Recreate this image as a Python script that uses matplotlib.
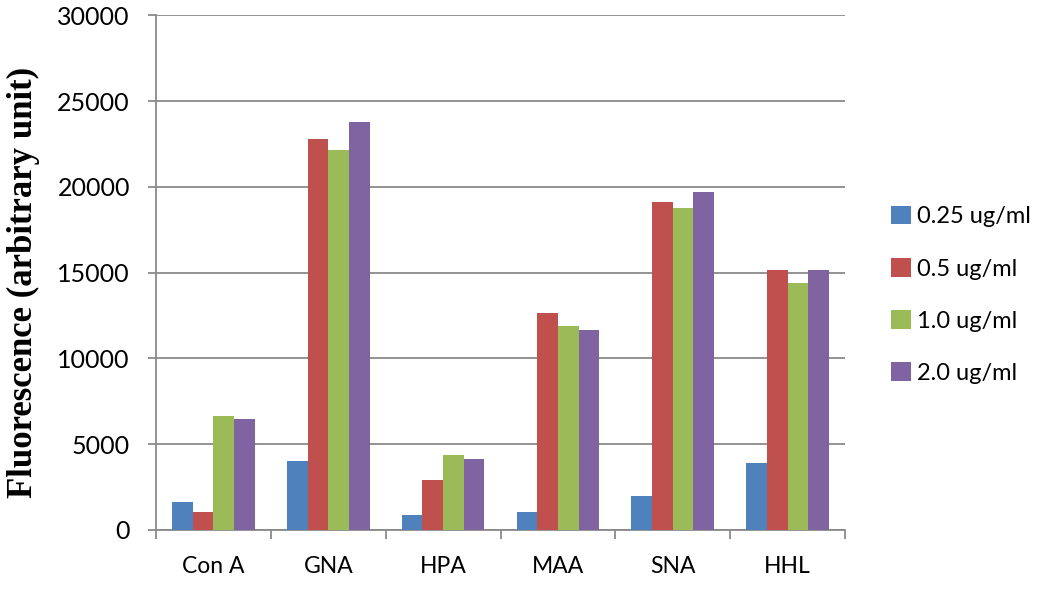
import numpy as np
import matplotlib
matplotlib.use("Agg")
import matplotlib.pyplot as plt

# data
lectins = ["Con A", "GNA", "HPA", "MAA", "SNA", "HHL"]
series_names = ["0.25 ug/ml", "0.5 ug/ml", "1.0 ug/ml", "2.0 ug/ml"]
conc_025 = [1650, 4000, 900, 1030, 2000, 3900]
conc_05 = [1030, 22800, 2900, 12650, 19150, 15150]
conc_10 = [6650, 22150, 4400, 11900, 18800, 14400]
conc_20 = [6500, 23800, 4150, 11650, 19700, 15150]
y_ticks = [0, 5000, 10000, 15000, 20000, 25000, 30000]

colors = ["#4F81BD", "#C0504D", "#9BBB59", "#8064A2"]
grid_col = "#8a8a8a"

plt.rcParams['font.family'] = ['Lato', 'DejaVu Sans']

fig = plt.figure(figsize=(10.5, 5.89), dpi=100)
ax = fig.add_axes([0.1486, 0.1002, 0.8048 - 0.1486, 0.9737 - 0.1002])

x = np.arange(len(lectins))
bar_w = 0.18
all_series = [conc_025, conc_05, conc_10, conc_20]
for i, vals in enumerate(all_series):
    ax.bar(x + (i - 1.5) * bar_w, vals, width=bar_w, color=colors[i],
           label=series_names[i], zorder=3, linewidth=0)

ax.set_xlim(-0.5, len(lectins) - 0.5)
ax.set_ylim(0, 30000)
ax.set_yticks(y_ticks)
ax.set_yticklabels([str(v) for v in y_ticks])
ax.yaxis.grid(True, color=grid_col, linewidth=1.3, zorder=0)
ax.set_axisbelow(True)

# category boundaries as major ticks, names on minor ticks
ax.set_xticks(np.arange(-0.5, len(lectins)), minor=False)
ax.set_xticklabels([])
ax.set_xticks(x, minor=True)
ax.set_xticklabels(lectins, minor=True)
ax.tick_params(axis='x', which='major', length=6.5, width=1.3, color=grid_col, direction='out')
ax.tick_params(axis='x', which='minor', length=0, pad=19, labelsize=16.5)
ax.tick_params(axis='y', length=5.8, width=1.3, color=grid_col, pad=13, labelsize=18)

for side in ["top", "right"]:
    ax.spines[side].set_visible(False)
for side in ["left", "bottom"]:
    ax.spines[side].set_color(grid_col)
    ax.spines[side].set_linewidth(1.3)

ax.set_ylabel("Fluorescence (arbitrary unit)", family=['Liberation Serif'],
              fontweight='bold', fontsize=25)
ax.yaxis.set_label_coords(-0.168, 0.482)

ax.legend(loc='center left', bbox_to_anchor=(1.067, 0.457), frameon=False,
          borderaxespad=0, borderpad=0,
          fontsize=17, handlelength=0.85, handleheight=0.85, handletextpad=0.25,
          labelspacing=1.3)

fig.savefig("out.png", dpi=100)
